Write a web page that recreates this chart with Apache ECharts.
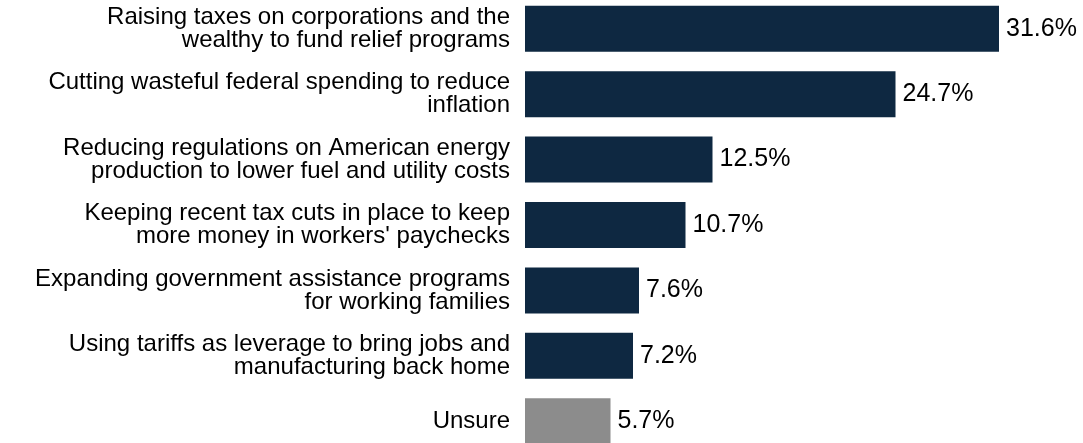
<!DOCTYPE html>
<html>
<head>
<meta charset="utf-8">
<script src="https://cdn.jsdelivr.net/npm/echarts@6/dist/echarts.min.js"></script>
<style>
  html, body { margin: 0; padding: 0; background: #ffffff; }
  #chart { width: 1083px; height: 443px; }
</style>
</head>
<body>
<div id="chart"></div>
<script>
const categories = [
  "Raising taxes on corporations and the\nwealthy to fund relief programs",
  "Cutting wasteful federal spending to reduce\ninflation",
  "Reducing regulations on American energy\nproduction to lower fuel and utility costs",
  "Keeping recent tax cuts in place to keep\nmore money in workers' paychecks",
  "Expanding government assistance programs\nfor working families",
  "Using tariffs as leverage to bring jobs and\nmanufacturing back home",
  "Unsure"
];
const values = [31.6, 24.7, 12.5, 10.7, 7.6, 7.2, 5.7];

const NAVY = '#0E2841';
const GRAY = '#8C8C8C';

const chart = echarts.init(document.getElementById('chart'), null, { renderer: 'canvas' });
chart.setOption({
  animation: false,
  backgroundColor: '#ffffff',
  grid: { left: 525, top: -4, width: 600, height: 458, containLabel: false, outerBoundsMode: 'none' },
  xAxis: {
    type: 'value', min: 0, max: 40, show: false
  },
  yAxis: {
    type: 'category',
    inverse: true,
    data: categories,
    axisLine: { show: false },
    axisTick: { show: false },
    splitLine: { show: false },
    axisLabel: {
      margin: 15,
      color: '#000000',
      fontFamily: 'Liberation Sans, Arial, sans-serif',
      fontSize: 24,
      lineHeight: 23,
      align: 'right'
    }
  },
  series: [{
    type: 'bar',
    data: values,
    barWidth: 46,
    itemStyle: {
      color: function (p) { return categories[p.dataIndex] === 'Unsure' ? GRAY : NAVY; }
    },
    label: {
      show: true,
      position: 'right',
      distance: 7,
      color: '#000000',
      fontFamily: 'Liberation Sans, Arial, sans-serif',
      fontSize: 25,
      formatter: function (p) { return p.value.toFixed(1) + '%'; }
    }
  }]
});
</script>
</body>
</html>
